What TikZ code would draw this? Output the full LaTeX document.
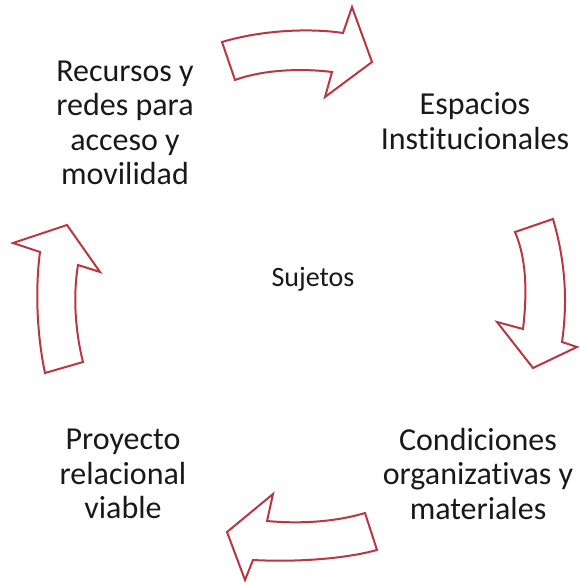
\documentclass[tikz,border=0pt]{standalone}
\usepackage{fontspec}
\setmainfont[Ligatures=NoCommon]{Carlito}
\definecolor{arrowred}{RGB}{185,55,65}
\begin{document}
\begin{tikzpicture}[x=1pt,y=-1pt,
  blockarrow/.style={draw=arrowred,line width=2pt,line join=miter,fill=white},
  label/.style={align=center,font=\fontsize{32}{34.5}\selectfont,text=black!90,inner sep=0pt}]
\useasboundingbox (0,0) rectangle (579,585);
% top arrow
\draw[blockarrow] (222,42) .. controls (262,30) and (310,28) .. (343,33) -- (352,7) -- (372,62) -- (325,97) -- (332,72) .. controls (300,68) and (262,70) .. (235,80) -- cycle;
% right arrow
\draw[blockarrow] (515,232) -- (553,219) .. controls (565,260) and (568,300) .. (562,342) -- (577,347) -- (533,368) -- (497,322) -- (523,329) .. controls (527,295) and (527,260) .. (515,232) -- cycle;
% bottom arrow
\draw[blockarrow] (365,513) -- (377,550) .. controls (340,560) and (290,562) .. (253,560) -- (245,580) -- (227,532) -- (273,494) -- (267,521) .. controls (300,524) and (335,522) .. (365,513) -- cycle;
% left arrow
\draw[blockarrow] (45,373) -- (83,362) .. controls (75,330) and (73,295) .. (78,265) -- (100,272) -- (67,225) -- (13,243) -- (40,252) .. controls (35,290) and (37,335) .. (45,373) -- cycle;
% texts
\node[label] (rec) at (125,123) {Recursos y\\redes para\\acceso y\\movilidad};
\node[label] (esp) at (475,121) {Espacios\\Institucionales};
\node[label] (suj) at (313,279) {\fontsize{28}{30}\selectfont Sujetos};
\node[label] (con) at (478,474) {Condiciones\\organizativas y\\materiales};
\node[label] (pro) at (123,474) {Proyecto\\relacional\\viable};
\end{tikzpicture}
\end{document}
